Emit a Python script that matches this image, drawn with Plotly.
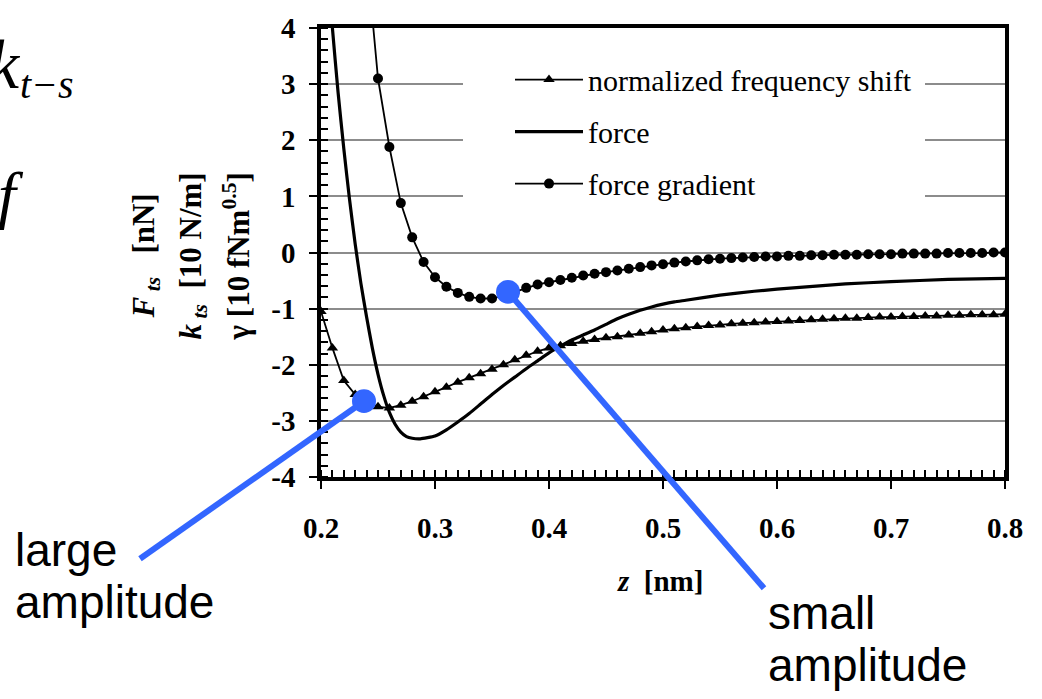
import plotly.graph_objects as go

# ---------------- data ----------------
z_shift = [0.20, 0.21, 0.22, 0.23, 0.24, 0.25, 0.26, 0.27, 0.28, 0.29,
           0.30, 0.31, 0.32, 0.33, 0.34, 0.35, 0.36, 0.37, 0.38, 0.39,
           0.40, 0.41, 0.42, 0.43, 0.44, 0.45, 0.46, 0.47, 0.48, 0.49,
           0.50, 0.51, 0.52, 0.53, 0.54, 0.55, 0.56, 0.57, 0.58, 0.59,
           0.60, 0.61, 0.62, 0.63, 0.64, 0.65, 0.66, 0.67, 0.68, 0.69,
           0.70, 0.71, 0.72, 0.73, 0.74, 0.75, 0.76, 0.77, 0.78, 0.79, 0.80]
norm_freq_shift = [-1.05, -1.70, -2.28, -2.53, -2.66, -2.75, -2.77, -2.72, -2.65, -2.57,
                   -2.48, -2.40, -2.31, -2.23, -2.16, -2.08, -2.00, -1.91, -1.83, -1.76,
                   -1.70, -1.66, -1.62, -1.58, -1.55, -1.52, -1.50, -1.47, -1.44, -1.41,
                   -1.38, -1.36, -1.34, -1.32, -1.30, -1.29, -1.27, -1.26, -1.25, -1.24,
                   -1.23, -1.22, -1.21, -1.20, -1.19, -1.18, -1.17, -1.17, -1.16, -1.15,
                   -1.15, -1.14, -1.14, -1.13, -1.13, -1.12, -1.12, -1.11, -1.11, -1.11, -1.10]

z_force = [0.205, 0.210, 0.215, 0.220, 0.225, 0.230, 0.235, 0.240, 0.245, 0.250,
           0.255, 0.260, 0.265, 0.270, 0.275, 0.280, 0.287, 0.300, 0.310, 0.320,
           0.330, 0.340, 0.350, 0.360, 0.370, 0.380, 0.390, 0.400, 0.410, 0.420,
           0.430, 0.440, 0.450, 0.460, 0.470, 0.480, 0.490, 0.500, 0.510, 0.520,
           0.550, 0.580, 0.620, 0.660, 0.700, 0.750, 0.800]
force = [5.30, 4.00, 2.85, 1.85, 0.95, 0.15, -0.55, -1.15, -1.70, -2.17,
         -2.55, -2.85, -3.06, -3.20, -3.28, -3.31, -3.32, -3.27, -3.16, -3.02,
         -2.87, -2.70, -2.53, -2.37, -2.22, -2.07, -1.93, -1.79, -1.67, -1.56,
         -1.47, -1.38, -1.28, -1.18, -1.10, -1.03, -0.97, -0.92, -0.88, -0.85,
         -0.76, -0.69, -0.62, -0.56, -0.52, -0.48, -0.46]

z_grad = [0.24, 0.25, 0.26, 0.27, 0.28, 0.29, 0.30, 0.31, 0.32, 0.33,
          0.34, 0.35, 0.36, 0.37, 0.38, 0.39, 0.40, 0.41, 0.42, 0.43,
          0.44, 0.45, 0.46, 0.47, 0.48, 0.49, 0.50, 0.51, 0.52, 0.53,
          0.54, 0.55, 0.56, 0.57, 0.58, 0.59, 0.60, 0.61, 0.62, 0.63,
          0.64, 0.65, 0.66, 0.67, 0.68, 0.69, 0.70, 0.71, 0.72, 0.73,
          0.74, 0.75, 0.76, 0.77, 0.78, 0.79, 0.80]
force_gradient = [5.3, 3.10, 1.88, 0.88, 0.27, -0.17, -0.44, -0.61, -0.72, -0.79,
                  -0.82, -0.82, -0.77, -0.70, -0.63, -0.57, -0.53, -0.49, -0.45, -0.41,
                  -0.38, -0.35, -0.32, -0.29, -0.26, -0.23, -0.21, -0.18, -0.16, -0.14,
                  -0.12, -0.11, -0.10, -0.09, -0.08, -0.07, -0.07, -0.06, -0.06, -0.05,
                  -0.05, -0.04, -0.04, -0.04, -0.03, -0.03, -0.03, -0.02, -0.02, -0.02,
                  -0.02, -0.01, -0.01, -0.01, -0.01, 0.00, 0.00]

x_tick_vals = [0.2, 0.3, 0.4, 0.5, 0.6, 0.7, 0.8]
x_tick_text = ["0.2", "0.3", "0.4", "0.5", "0.6", "0.7", "0.8"]
y_tick_vals = [-4, -3, -2, -1, 0, 1, 2, 3, 4]
y_tick_text = ["-4", "-3", "-2", "-1", "0", "1", "2", "3", "4"]

series_names = ["normalized frequency shift", "force", "force gradient"]

# ---------------- layout geometry ----------------
W, H = 1042, 699
L, R, T, B = 321, 37, 21, 222
PW, PH = W - L - R, H - T - B


def px(xp):
    return (xp - L) / PW


def py(yp):
    return (H - B - yp) / PH


SERIF = "Liberation Serif"
SANS = "Liberation Sans"
BLUE = "#3366FF"

fig = go.Figure()

fig.add_trace(go.Scatter(
    x=z_shift, y=norm_freq_shift, name=series_names[0], legendgroup="a",
    mode="lines+markers", line=dict(color="black", width=1.8),
    marker=dict(symbol="triangle-up", size=10, color="black")))
fig.add_trace(go.Scatter(
    x=z_force, y=force, name=series_names[1], legendgroup="b",
    mode="lines", line=dict(color="black", width=3.2, shape="spline", smoothing=0.5)))
fig.add_trace(go.Scatter(
    x=z_grad, y=force_gradient, name=series_names[2], legendgroup="c",
    mode="lines+markers", line=dict(color="black", width=1.8),
    marker=dict(symbol="circle", size=10, color="black")))

axis_common = dict(
    showline=True, linecolor="black", linewidth=3.5, mirror=True,
    ticks="outside", ticklen=8, tickwidth=2, tickcolor="black",
    zeroline=False,
    tickfont=dict(family=SERIF, size=29, color="black", weight="bold"),
)

fig.update_xaxes(
    range=[0.2, 0.8], tickvals=x_tick_vals, ticktext=x_tick_text,
    showgrid=False, ticklabelstandoff=14,
    minor=dict(ticks="inside", dtick=0.01, ticklen=7, tickwidth=2, tickcolor="black", showgrid=False),
    **axis_common)
fig.update_yaxes(
    range=[-4, 4], tickvals=y_tick_vals, ticktext=y_tick_text,
    showgrid=True, gridcolor="#8c8c8c", gridwidth=1.5, ticklabelstandoff=8,
    minor=dict(ticks="inside", dtick=0.2, ticklen=7, tickwidth=2, tickcolor="black", showgrid=False),
    **axis_common)

annotations = []
# axis titles
annotations.append(dict(
    x=px(660), y=py(583), xref="paper", yref="paper", showarrow=False,
    xanchor="center", yanchor="middle",
    text="<i>z</i>  [nm]", font=dict(family=SERIF, size=29, color="black", weight="bold")))
ylabels = [("<i>F</i><sub><i> ts</i></sub>   [nN]", 146),
           ("<i>k</i><sub><i> ts</i></sub>  [10 N/m]", 193),
           ("γ [10 fNm<sup>0.5</sup>]", 236)]
for txt, xc in ylabels:
    annotations.append(dict(
        x=px(xc), y=py(253), xref="paper", yref="paper", showarrow=False,
        xanchor="center", yanchor="middle",
        textangle=-90, text=txt,
        font=dict(family=SERIF, size=31, color="black", weight="bold")))

# slide text fragments at the left edge
annotations.append(dict(
    x=px(-14), y=py(58), xref="paper", yref="paper", showarrow=False,
    xanchor="left", yanchor="middle", text="<i>k</i>",
    font=dict(family=SERIF, size=70, color="black")))
annotations.append(dict(
    x=px(18), y=py(78), xref="paper", yref="paper", showarrow=False,
    xanchor="left", yanchor="middle", text="<i>t−s</i>",
    font=dict(family=SERIF, size=40, color="black")))
annotations.append(dict(
    x=px(-4), y=py(190), xref="paper", yref="paper", showarrow=False,
    xanchor="left", yanchor="middle", text="<i>f</i>",
    font=dict(family=SERIF, size=64, color="black")))

# callout texts
for txt, xl, yc in [("large", 13, 551), ("amplitude", 13, 604),
                    ("small", 766, 615), ("amplitude", 766, 668)]:
    annotations.append(dict(
        x=px(xl), y=py(yc), xref="paper", yref="paper", showarrow=False,
        xanchor="left", yanchor="middle", text=txt,
        font=dict(family=SANS, size=46, color="black")))

# white box behind the legend (hides grid lines there), in axis units
box_x0 = 0.2 + (463 - 321) / 1140
box_x1 = 0.2 + (925 - 321) / 1140
box_y1 = (249 - 50) / 57
box_y0 = (249 - 213) / 57

shapes = [
    dict(type="rect", xref="x", yref="y", x0=box_x0, x1=box_x1, y0=box_y0, y1=box_y1,
         fillcolor="white", line=dict(width=0), layer="between"),
    # blue callouts
    dict(type="line", xref="paper", yref="paper", x0=px(364), y0=py(400), x1=px(140), y1=py(560),
         line=dict(color=BLUE, width=6)),
    dict(type="circle", xref="paper", yref="paper", x0=px(352), x1=px(376), y0=py(412), y1=py(388),
         fillcolor=BLUE, line=dict(width=0)),
    dict(type="line", xref="paper", yref="paper", x0=px(508), y0=py(289), x1=px(764), y1=py(590),
         line=dict(color=BLUE, width=6)),
    dict(type="circle", xref="paper", yref="paper", x0=px(496), x1=px(520), y0=py(301), y1=py(277),
         fillcolor=BLUE, line=dict(width=0)),
]

fig.update_layout(
    width=W, height=H,
    margin=dict(l=L, r=R, t=T, b=B),
    paper_bgcolor="white", plot_bgcolor="white",
    showlegend=True,
    legend=dict(
        x=px(510), y=py(47), xanchor="left", yanchor="top",
        bgcolor="rgba(0,0,0,0)", borderwidth=0,
        font=dict(family=SERIF, size=30, color="black"),
        traceorder="grouped", tracegroupgap=10, itemwidth=68,
    ),
    annotations=annotations,
    shapes=shapes,
)

fig.write_html("out.html")
